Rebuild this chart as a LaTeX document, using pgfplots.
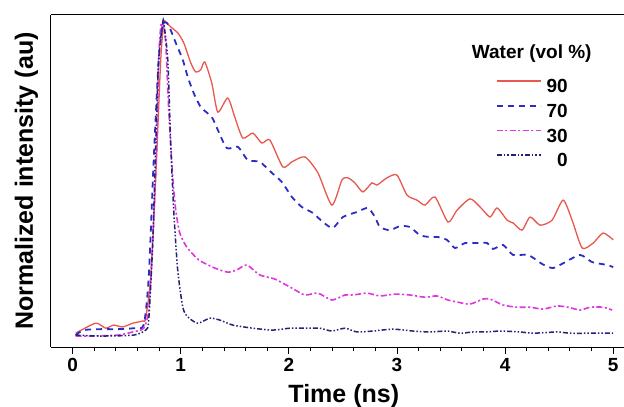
\documentclass[border=0pt]{standalone}
\usepackage{pgfplots}
\pgfplotsset{compat=1.18}
\usepackage{fontspec}
\setmainfont{Liberation Sans}
\usetikzlibrary{calc}

\definecolor{c90}{RGB}{232,88,78}
\definecolor{c70}{RGB}{45,45,195}
\definecolor{c30}{RGB}{222,55,222}
\definecolor{c0}{RGB}{35,35,115}

\begin{document}
\begin{tikzpicture}
\begin{axis}[
  scale only axis,
  width=573pt, height=332pt,
  xmin=-0.2, xmax=5.1,
  ymin=-0.038, ymax=1.022,
  axis x line=box, axis y line=left,
  axis line style={-, line width=1pt, black},
  xtick={0,1,2,3,4,5},
  minor x tick num=4,
  xtick pos=bottom,
  tick align=outside,
  major tick length=7pt, minor tick length=4pt,
  every tick/.style={black, line width=0.9pt},
  ytick=\empty,
  /pgf/number format/assume math mode=true,
  xticklabel style={font=\fontsize{19}{19}\selectfont\bfseries, inner sep=0pt, yshift=-4pt},
  xlabel={Time (ns)},
  ylabel={Normalized intensity (au)},
  label style={font=\fontsize{25}{25}\selectfont\bfseries},
  xlabel style={at={(axis description cs:0.511,0)}, anchor=base, yshift=-55pt},
  ylabel style={at={([xshift=-18pt]axis description cs:0,0.5)}, anchor=base},
  every axis plot/.append style={smooth, tension=0.4},
  legend cell align=right,
  legend style={draw=none, fill=none,
    at={(axis description cs:0.902,0.806)}, anchor=north east,
    inner sep=0pt, row sep=11.7pt, column sep=5pt,
    nodes={inner sep=0pt, text height=13pt, text depth=0pt,
      font=\fontsize{19}{19}\selectfont\bfseries}},
  legend image code/.code={\draw[#1, sharp plot] (0pt,5pt) -- (44pt,5pt);},
]
\coordinate (bl) at (rel axis cs:0,0);
\coordinate (tr) at (rel axis cs:1,1);

% 90 vol% water
\addplot[c90, line width=1.3pt] coordinates {
(0.028,0.006) (0.213,0.038) (0.306,0.022) (0.380,0.032) (0.463,0.026)
(0.556,0.038) (0.648,0.045) (0.676,0.054) (0.722,0.185) (0.769,0.505)
(0.815,0.879) (0.843,0.997) (0.861,1.000) (0.907,0.984) (0.972,0.965)
(1.028,0.933) (1.093,0.869) (1.139,0.840) (1.185,0.847) (1.222,0.872)
(1.287,0.805) (1.343,0.712) (1.435,0.757) (1.500,0.696) (1.574,0.629)
(1.667,0.645) (1.750,0.613) (1.824,0.623) (1.944,0.537) (2.028,0.553)
(2.148,0.569) (2.269,0.518) (2.398,0.415) (2.491,0.495) (2.546,0.502)
(2.611,0.486) (2.685,0.457) (2.769,0.486) (2.815,0.479) (2.907,0.502)
(3.000,0.511) (3.093,0.447) (3.185,0.431) (3.259,0.415) (3.352,0.441)
(3.472,0.361) (3.556,0.399) (3.676,0.435) (3.769,0.409) (3.861,0.377)
(3.926,0.406) (4.019,0.367) (4.074,0.358) (4.157,0.335) (4.231,0.377)
(4.324,0.351) (4.435,0.367) (4.537,0.431) (4.620,0.367) (4.713,0.278)
(4.815,0.294) (4.907,0.326) (5.000,0.304)
};
\addlegendentry{90}

% 70 vol% water
\addplot[c70, line width=1.8pt, dash pattern=on 6pt off 5pt] coordinates {
(0.028,0.000) (0.102,0.016) (0.259,0.019) (0.417,0.019) (0.565,0.022)
(0.657,0.032) (0.704,0.185) (0.750,0.559) (0.796,0.879) (0.833,0.990)
(0.870,0.997) (0.907,0.974) (0.954,0.933) (1.019,0.879) (1.065,0.824)
(1.120,0.773) (1.185,0.728) (1.287,0.696) (1.343,0.655) (1.426,0.597)
(1.528,0.601) (1.620,0.559) (1.731,0.553) (1.843,0.518) (1.935,0.489)
(2.028,0.441) (2.120,0.409) (2.222,0.390) (2.315,0.361) (2.407,0.342)
(2.500,0.377) (2.630,0.393) (2.731,0.406) (2.796,0.377) (2.843,0.345)
(2.935,0.335) (3.028,0.348) (3.120,0.345) (3.213,0.319) (3.306,0.313)
(3.380,0.313) (3.463,0.304) (3.537,0.278) (3.630,0.294) (3.741,0.294)
(3.833,0.294) (3.889,0.275) (3.981,0.288) (4.074,0.256) (4.213,0.256)
(4.343,0.227) (4.444,0.214) (4.556,0.233) (4.694,0.256) (4.806,0.233)
(4.944,0.224) (5.000,0.217)
};
\addlegendentry{70}

% 30 vol% water
\addplot[c30, line width=1.6pt, dash pattern=on 6pt off 2.5pt on 2pt off 2.5pt] coordinates {
(0.028,-0.003) (0.167,-0.003) (0.417,0.000) (0.556,0.010) (0.657,0.022)
(0.704,0.080) (0.741,0.294) (0.778,0.613) (0.796,0.879) (0.815,0.984)
(0.833,0.997) (0.861,0.933) (0.889,0.719) (0.926,0.505) (0.954,0.399)
(0.991,0.326) (1.056,0.281) (1.167,0.240) (1.315,0.214) (1.435,0.201)
(1.519,0.208) (1.611,0.224) (1.731,0.192) (1.870,0.179) (2.028,0.150)
(2.148,0.128) (2.269,0.134) (2.398,0.112) (2.519,0.128) (2.593,0.128)
(2.722,0.134) (2.843,0.125) (2.981,0.131) (3.120,0.128) (3.259,0.121)
(3.370,0.125) (3.472,0.112) (3.565,0.105) (3.676,0.099) (3.796,0.115)
(3.861,0.115) (3.981,0.096) (4.111,0.089) (4.231,0.089) (4.352,0.083)
(4.481,0.093) (4.583,0.089) (4.694,0.080) (4.787,0.089) (4.907,0.089)
(4.991,0.080)
};
\addlegendentry{30}

% 0 vol% water
\addplot[c0, line width=1.5pt, dash pattern=on 5pt off 2pt on 1.5pt off 2pt on 1.5pt off 2pt] coordinates {
(0.028,0.000) (0.259,-0.003) (0.565,0.000) (0.676,0.016) (0.704,0.048)
(0.741,0.294) (0.769,0.613) (0.796,0.879) (0.833,0.997) (0.843,0.997)
(0.880,0.879) (0.907,0.613) (0.935,0.399) (0.972,0.208) (1.019,0.089)
(1.065,0.058) (1.157,0.038) (1.269,0.054) (1.361,0.048) (1.481,0.032)
(1.667,0.022) (1.852,0.016) (2.009,0.022) (2.167,0.022) (2.287,0.022)
(2.398,0.013) (2.519,0.022) (2.630,0.010) (2.778,0.013) (2.963,0.019)
(3.148,0.013) (3.306,0.010) (3.463,0.013) (3.583,0.006) (3.704,0.010)
(3.833,0.010) (3.954,0.013) (4.139,0.010) (4.259,0.006) (4.481,0.010)
(4.602,0.006) (4.787,0.006) (5.000,0.006)
};
\addlegendentry{0}

\node[font=\fontsize{19}{19}\selectfont\bfseries, anchor=base, inner sep=0pt]
  at (axis description cs:0.839,0.870) {Water (vol \%)};
\end{axis}
\pgfresetboundingbox
\path ($(bl)+(-51pt,-60pt)$) rectangle ($(tr)+(0pt,15pt)$);
\end{tikzpicture}
\end{document}
